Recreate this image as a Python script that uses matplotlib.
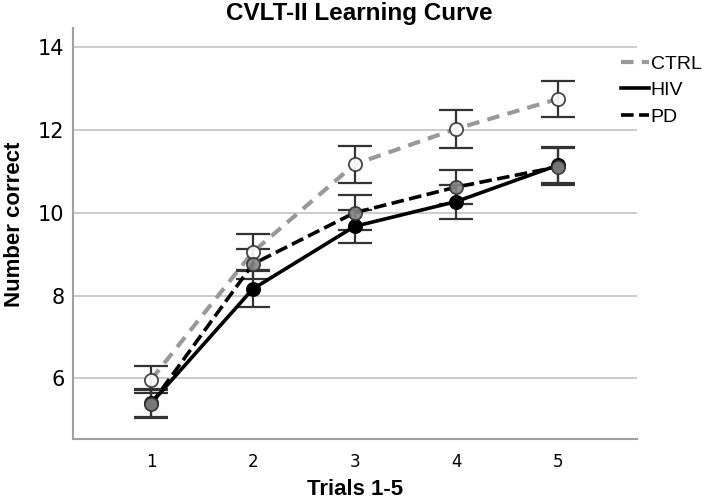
import matplotlib.pyplot as plt

trials = [1, 2, 3, 4, 5]
tick_labels = ["1", "2", "3", "4", "5"]

ctrl_mean = [5.97, 9.05, 11.17, 12.03, 12.75]
ctrl_err = [0.33, 0.44, 0.44, 0.46, 0.44]

hiv_mean = [5.40, 8.16, 9.67, 10.27, 11.15]
hiv_err = [0.33, 0.44, 0.39, 0.41, 0.43]

pd_mean = [5.38, 8.76, 10.00, 10.62, 11.11]
pd_err = [0.33, 0.37, 0.42, 0.42, 0.45]

fig = plt.figure(figsize=(7.08, 5.03), dpi=100)
ax = fig.add_axes([0.103, 0.127, 0.797, 0.817])

err_kw = dict(ecolor="#333333", elinewidth=1.6, capsize=12, capthick=1.6, zorder=2)

# connecting lines
l_ctrl, = ax.plot(trials, ctrl_mean, color="#999999", ls=(0, (3, 2)), lw=3, zorder=3, label="CTRL")
l_hiv, = ax.plot(trials, hiv_mean, color="black", ls="-", lw=2.6, zorder=3, label="HIV")
l_pd, = ax.plot(trials, pd_mean, color="black", ls=(0, (3.5, 1.5)), lw=2.6, zorder=3, label="PD")

# error bars + markers
ax.errorbar(trials, ctrl_mean, yerr=ctrl_err, fmt="none", **err_kw)
ax.errorbar(trials, hiv_mean, yerr=hiv_err, fmt="none", **err_kw)
ax.errorbar(trials, pd_mean, yerr=pd_err, fmt="none", **err_kw)

ax.plot(trials, ctrl_mean, "o", ms=9.5, mfc="white", mec="#333333", mew=1.3, zorder=4, alpha=0.9)
ax.plot(trials, hiv_mean, "o", ms=9.5, mfc="black", mec="black", mew=1.3, zorder=4)
ax.plot(trials, pd_mean, "o", ms=9.5, mfc="#858585", mec="#333333", mew=1.3, zorder=5, alpha=0.9)

ax.set_xlim(0.23, 5.78)
ax.set_ylim(4.53, 14.46)
ax.set_xticks(trials)
ax.set_xticklabels(tick_labels)
ax.set_yticks([6, 8, 10, 12, 14])
ax.tick_params(axis="x", length=0, labelsize=12, pad=10)
ax.tick_params(axis="y", length=0, labelsize=15, pad=6)

ax.grid(axis="y", color="#c8c8c8", lw=1.3)
ax.set_axisbelow(True)
for s in ["top", "right"]:
    ax.spines[s].set_visible(False)
for s in ["left", "bottom"]:
    ax.spines[s].set_color("#a0a0a0")
    ax.spines[s].set_linewidth(1.5)

fig.text(0.508, 0.973, "CVLT-II Learning Curve", ha="center", va="center",
         fontsize=17.5, fontweight="bold", family="Liberation Sans")
fig.text(0.021, 0.555, "Number correct", ha="center", va="center", rotation=90,
         fontsize=16, fontweight="bold", family="Liberation Sans")
fig.text(0.502, 0.026, "Trials 1-5", ha="center", va="center",
         fontsize=16, fontweight="bold", family="Liberation Sans")

leg = fig.legend(handles=[l_ctrl, l_hiv, l_pd], loc="upper left", bbox_to_anchor=(0.852, 0.925),
                 frameon=False, handlelength=1.45, handletextpad=0.1, labelspacing=0.45,
                 prop={"family": "Liberation Sans", "size": 14})

fig.savefig("out.png", dpi=100)
